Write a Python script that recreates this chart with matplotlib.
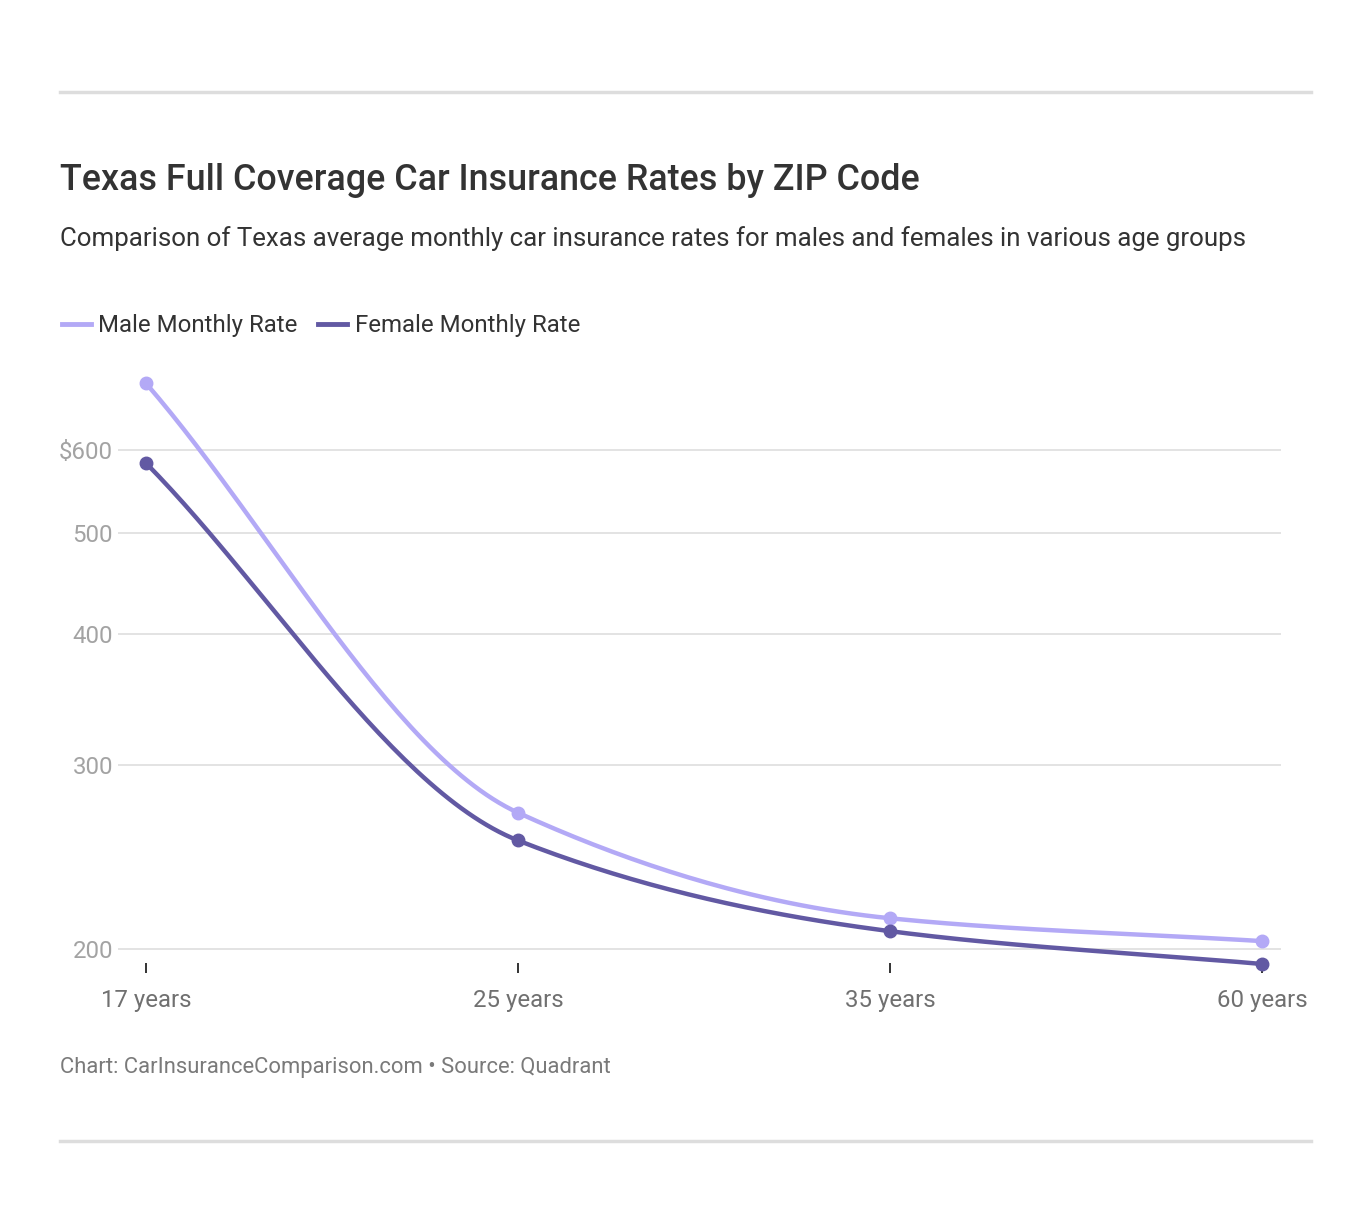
import numpy as np
import matplotlib
matplotlib.use("Agg")
import matplotlib.pyplot as plt
from matplotlib.lines import Line2D

plt.rcParams['font.family'] = ['Roboto', 'DejaVu Sans']

categories = ["17 years", "25 years", "35 years", "60 years"]
male_rate = [695, 270, 214, 203.5]
female_rate = [583, 254, 208, 193.5]
yticks = [200, 300, 400, 500, 600]
ytick_labels = ["200", "300", "400", "500", "$600"]

MALE_C = "#b3a9f6"
FEMALE_C = "#6259a3"

W, H = 1372, 1224
fig = plt.figure(figsize=(W / 100, H / 100), dpi=100)


def fx(px):
    return px / W


def fy(py):
    return 1 - py / H


def monotone(x, y, n=60):
    x = np.asarray(x, float)
    y = np.asarray(y, float)
    h = np.diff(x)
    d = np.diff(y) / h
    m = np.zeros_like(y)
    m[0], m[-1] = d[0], d[-1]
    for i in range(1, len(y) - 1):
        if d[i - 1] * d[i] <= 0:
            m[i] = 0
        else:
            w1 = 2 * h[i] + h[i - 1]
            w2 = h[i] + 2 * h[i - 1]
            m[i] = (w1 + w2) / (w1 / d[i - 1] + w2 / d[i])
    xs, ys = [], []
    for i in range(len(x) - 1):
        t = np.linspace(0, 1, n)
        h00 = 2 * t**3 - 3 * t**2 + 1
        h10 = t**3 - 2 * t**2 + t
        h01 = -2 * t**3 + 3 * t**2
        h11 = t**3 - t**2
        yy = h00 * y[i] + h10 * h[i] * m[i] + h01 * y[i + 1] + h11 * h[i] * m[i + 1]
        xs.append(x[i] + t * h[i])
        ys.append(yy)
    return np.concatenate(xs), np.concatenate(ys)


# axes placement (pixels)
ax_l, ax_r, ax_t, ax_b = 118, 1281, 370, 963
ax = fig.add_axes([fx(ax_l), fy(ax_b), fx(ax_r - ax_l), (ax_b - ax_t) / H])
ax.set_yscale('log')

px_per_unit = (1262 - 146) / 3
ax.set_xlim(0 - (146 - ax_l) / px_per_unit, 3 + (ax_r - 1262) / px_per_unit)
ppd = 1045.0
lo = 10 ** (np.log10(200) - (ax_b - 949) / ppd)
hi = 10 ** (np.log10(600) + (450 - ax_t) / ppd)
ax.set_ylim(lo, hi)

xi = np.arange(len(categories))
for vals, c in [(male_rate, MALE_C), (female_rate, FEMALE_C)]:
    sx, sy = monotone(xi, np.log10(vals))
    ax.plot(sx, 10 ** sy, color=c, lw=3.2, solid_capstyle='round', clip_on=False, zorder=3)
    ax.plot(xi, vals, 'o', color=c, ms=9, clip_on=False, zorder=4)

for s in ax.spines.values():
    s.set_visible(False)

ax.yaxis.set_minor_locator(matplotlib.ticker.NullLocator())
ax.set_yticks(yticks)
ax.set_yticklabels(ytick_labels)
ax.grid(axis='y', color='#e3e3e3', lw=1.4)
ax.set_axisbelow(True)
ax.tick_params(axis='y', length=0, pad=(ax_l - 113) * 0.72, labelsize=17.3, labelcolor='#a3a3a3')

ax.set_xticks(xi)
ax.set_xticklabels(categories)
ax.tick_params(axis='x', direction='out', length=7, width=1.4, color='#333333',
               pad=12, labelsize=17.3, labelcolor='#707070')

# horizontal rules
for yy in (92, 1141):
    fig.add_artist(Line2D([fx(60), fx(1311)], [fy(yy), fy(yy)], color='#dddddd', lw=2.5))

fig.text(fx(60), fy(180), "Texas Full Coverage Car Insurance Rates by ZIP Code",
         fontsize=25.8, fontweight='medium', color='#333333', va='center', ha='left')
fig.text(fx(60), fy(239), "Comparison of Texas average monthly car insurance rates for males and females in various age groups",
         fontsize=18.6, color='#333333', va='center', ha='left')

# legend
ly = fy(326)
fig.add_artist(Line2D([fx(62), fx(91)], [fy(324), fy(324)], color=MALE_C, lw=3.5))
fig.text(fx(98), ly, "Male Monthly Rate", fontsize=17.3, color='#333333', va='center', ha='left')
fig.add_artist(Line2D([fx(318), fx(347)], [fy(324), fy(324)], color=FEMALE_C, lw=3.5))
fig.text(fx(355), ly, "Female Monthly Rate", fontsize=17.3, color='#333333', va='center', ha='left')

fig.text(fx(60), fy(1068), "Chart: CarInsuranceComparison.com • Source: Quadrant",
         fontsize=15.8, color='#7a7a7a', va='center', ha='left')

fig.savefig("out.png", dpi=100, facecolor='white')
